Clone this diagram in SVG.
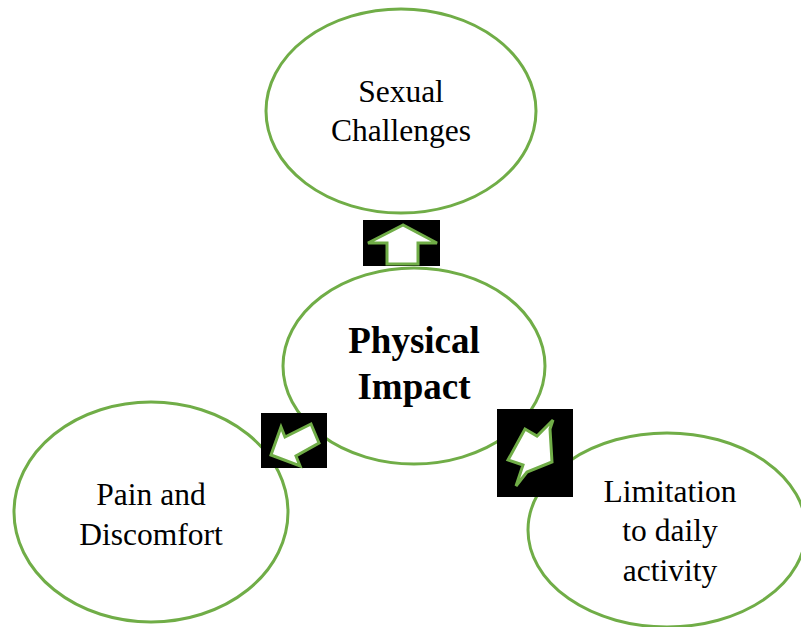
<svg xmlns="http://www.w3.org/2000/svg" width="801" height="627" viewBox="0 0 801 627">
<style>
.node ellipse{fill:#fff;stroke:#70AD47;stroke-width:3}
.t{font-family:"Liberation Serif","Times New Roman",serif;font-size:31.5px;fill:#000;text-anchor:middle}
.b{font-weight:bold;font-size:37px}
.box{fill:#000}
.arr{fill:#fff;stroke:#70AD47;stroke-width:3;stroke-linejoin:miter}
</style>
<rect width="801" height="627" fill="#fff"/>
<g id="sexual" class="node"><ellipse cx="401" cy="111" rx="135" ry="102"/><text class="t" x="401" y="102">Sexual</text><text class="t" x="401" y="141">Challenges</text></g>
<g id="pain" class="node"><ellipse cx="151" cy="512" rx="137" ry="110"/><text class="t" x="151" y="505">Pain and</text><text class="t" x="151" y="545">Discomfort</text></g>
<g id="limitation" class="node"><ellipse cx="667" cy="530" rx="139" ry="97"/><text class="t" x="670" y="502">Limitation</text><text class="t" x="670" y="541">to daily</text><text class="t" x="670" y="581">activity</text></g>
<g id="physical" class="node"><ellipse cx="414" cy="366" rx="131" ry="98"/><text class="t b" x="414" y="353">Physical</text><text class="t b" x="414" y="399">Impact</text></g>
<g id="connectors">
<rect class="box" x="363" y="220" width="77" height="46"/>
<polygon class="arr" points="403,225 368,243 387,243 387,264 418,264 418,243 437,243"/>
<rect class="box" x="261" y="413" width="66" height="55"/>
<polygon class="arr" points="271,455 281,427 285,437 311,424 319,443 296,456 300,466"/>
<rect class="box" x="497" y="409" width="76" height="88"/>
<polygon class="arr" points="553,420 550,429 552,462 527,472 516,486 523,465 508,460 525,429 537,436"/>
</g>
</svg>
